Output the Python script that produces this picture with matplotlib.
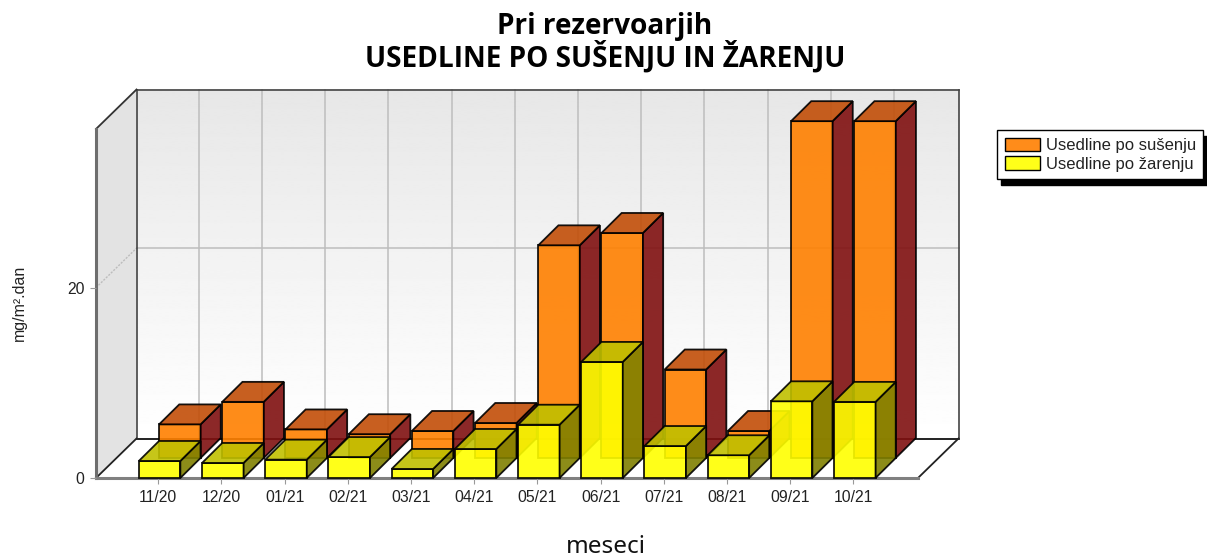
import numpy as np
import matplotlib
matplotlib.use("Agg")
import matplotlib.pyplot as plt
from matplotlib.patches import Polygon, Patch

# ---- data -------------------------------------------------------------
categories = ["11/20", "12/20", "01/21", "02/21", "03/21", "04/21",
              "05/21", "06/21", "07/21", "08/21", "09/21", "10/21"]
susenje = [3.53, 5.90, 3.00, 2.50, 2.84, 3.68, 22.35, 23.65, 9.30, 2.84, 35.4, 35.4]
zarenje = [1.79, 1.58, 1.93, 2.20, 0.95, 3.05, 5.60, 12.20, 3.36, 2.39, 8.06, 8.00]
y_ticks = [0, 20]
title = "Pri rezervoarjih\nUSEDLINE PO SUŠENJU IN ŽARENJU"
x_label = "meseci"
y_label = "mg/m².dan"
series_names = ["Usedline po sušenju", "Usedline po žarenju"]

# ---- scale helpers ------------------------------------------------------
W, H = 1207, 558
PX_X = 63.2     # pixels per category
PX_Y = 9.515    # pixels per value unit
X0, X1 = 96, 918
Y0, Y1 = 478, 129
x_lo = (X0 - 158.2) / PX_X
x_hi = (X1 - 158.2) / PX_X
y_hi = (Y0 - Y1) / PX_Y
wall_dx, wall_dy = 40.5 / PX_X, 39.5 / PX_Y
bar_dx, bar_dy = 20.2 / PX_X, 20 / PX_Y
bar_w = 41.5 / PX_X
bar_off = 1.4 / PX_X

fig = plt.figure(figsize=(W / 100, H / 100), dpi=100, facecolor="white")
ax = fig.add_axes([X0 / W, 1 - Y0 / H, (X1 - X0) / W, (Y0 - Y1) / H])
ax.patch.set_visible(False)
for s in ax.spines.values():
    s.set_visible(False)

# ---- 3D box -------------------------------------------------------------
grad = np.linspace(0.905, 1.0, 256).reshape(-1, 1)
ax.imshow(grad, cmap="gray", vmin=0, vmax=1, aspect="auto", origin="upper",
          extent=(x_lo + wall_dx, x_hi + wall_dx, wall_dy, y_hi + wall_dy),
          zorder=0, clip_on=False, interpolation="bilinear")
ax.add_patch(Polygon([(x_lo, 0), (x_lo, y_hi), (x_lo + wall_dx, y_hi + wall_dy),
                      (x_lo + wall_dx, wall_dy)],
                     fc="#E3E3E3", ec="none", zorder=0.5, clip_on=False))


def seg(xs, ys, color, lw, z=1, **kw):
    ax.plot(xs, ys, color=color, lw=lw, zorder=z, clip_on=False,
            solid_capstyle="projecting", **kw)


# grid lines on the back wall
for i in range(len(categories)):
    seg([i + wall_dx] * 2, [wall_dy, y_hi + wall_dy], "#BDBDBD", 1.1, z=0.8)
for v in y_ticks[1:]:
    seg([x_lo + wall_dx, x_hi + wall_dx], [v + wall_dy] * 2, "#BDBDBD", 1.1, z=0.8)
    ax.plot([x_lo, x_lo + wall_dx], [v, v + wall_dy], color="#BDBDBD", lw=1.0,
            ls=(0, (1.5, 1)), zorder=0.8, clip_on=False)

# frame of the box
seg([x_lo + wall_dx, x_hi + wall_dx], [wall_dy, wall_dy], "#111111", 1.3)
seg([x_lo + wall_dx, x_lo + wall_dx], [wall_dy, y_hi + wall_dy], "#333333", 1.1)
seg([x_lo + wall_dx, x_hi + wall_dx], [y_hi + wall_dy] * 2, "#444444", 1.2)
seg([x_hi + wall_dx, x_hi + wall_dx], [wall_dy, y_hi + wall_dy], "#444444", 1.2)
seg([x_lo, x_lo + wall_dx], [y_hi, y_hi + wall_dy], "#333333", 1.3)
seg([x_lo, x_lo + wall_dx], [0, wall_dy], "#222222", 1.3)
seg([x_hi, x_hi + wall_dx], [0, wall_dy], "#222222", 1.3)
seg([x_lo, x_lo], [0, y_hi], "#6E6E6E", 2.2, z=1.2)
seg([x_lo, x_hi], [0, 0], "#808080", 2.2, z=1.2)


# ---- bars ---------------------------------------------------------------
def bar3d(center, base, value, front, side, top, z):
    l = center - bar_w / 2
    r = center + bar_w / 2
    b, t = base, base + value
    kw = dict(ec="#000000", lw=1.3, alpha=0.9, zorder=z, clip_on=False, joinstyle="miter")
    ax.add_patch(Polygon([(l, b), (r, b), (r, t), (l, t)], fc=front, **kw))
    ax.add_patch(Polygon([(r, b), (r + bar_dx, b + bar_dy), (r + bar_dx, t + bar_dy), (r, t)],
                         fc=side, **kw))
    ax.add_patch(Polygon([(l, t), (r, t), (r + bar_dx, t + bar_dy), (l + bar_dx, t + bar_dy)],
                         fc=top, **kw))


for i, v in enumerate(susenje):
    bar3d(i + bar_off + bar_dx, bar_dy, v, "#FF8000", "#801010", "#C24E08", 2)
for i, v in enumerate(zarenje):
    bar3d(i + bar_off, 0, v, "#FFFF00", "#808000", "#C0C000", 3)

# ---- axes ---------------------------------------------------------------
ax.set_xlim(x_lo, x_hi)
ax.set_ylim(0, y_hi)
ax.set_xticks(range(len(categories)), categories)
ax.set_yticks(y_ticks)
ax.tick_params(axis="both", length=4.3, width=0.8, color="#999999",
               labelcolor="#222222", labelsize=11.3, pad=4)
for t in ax.get_xticklabels() + ax.get_yticklabels():
    t.set_family("Liberation Sans")
ax.set_xlabel(x_label, family="Noto Sans", fontsize=17.5, color="#111111")
ax.xaxis.set_label_coords(606 / W, 1 - 547 / H, transform=fig.transFigure)
ax.xaxis.label.set_va("center")
ax.set_ylabel(y_label, family="Liberation Sans", fontsize=11.5, color="#222222")
ax.yaxis.set_label_coords(19 / W, 1 - 303 / H, transform=fig.transFigure)
ax.yaxis.label.set_va("center")

fig.text(605 / W, 1 - 43 / H, title, ha="center", va="center", family="Open Sans",
         fontweight="bold", fontsize=20.2, linespacing=1.0, color="black")

handles = [Patch(fc="#FF8C1A", ec="black", lw=1.0), Patch(fc="#FFFF19", ec="black", lw=1.0)]
leg = ax.legend(handles, series_names, loc="upper left",
                bbox_to_anchor=(997 / W, 1 - 130 / H), bbox_transform=fig.transFigure,
                fancybox=False, framealpha=1, edgecolor="black", borderaxespad=0,
                shadow={"color": "black", "alpha": 1, "ox": 2.9, "oy": -4.3},
                prop={"family": "Liberation Sans", "size": 12},
                handlelength=2.1, handleheight=0.88, handletextpad=0.37,
                labelspacing=0.2, borderpad=0.45)
for t in leg.get_texts():
    t.set_color("#222222")
leg.set_zorder(10)

fig.savefig("out.png", dpi=100)
